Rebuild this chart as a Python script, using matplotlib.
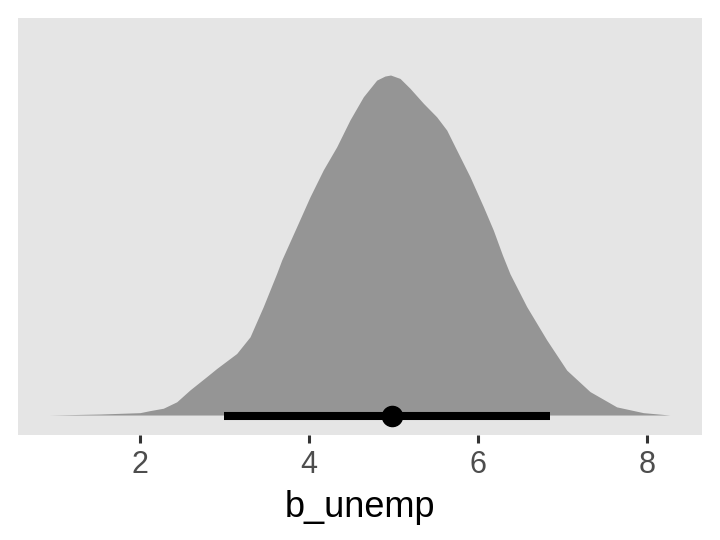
import matplotlib
matplotlib.use('Agg')
import matplotlib.pyplot as plt
import numpy as np

plt.rcParams.update({
    "font.family": ["Liberation Sans", "DejaVu Sans"],
})

# density outline of b_unemp posterior (scaled so peak = 1)
dens_x = [0.923, 1.527, 2.000, 2.118, 2.276, 2.435, 2.592, 2.789, 2.908, 3.144,
          3.302, 3.459, 3.618, 3.677, 3.854, 4.012, 4.169, 4.328, 4.485, 4.643,
          4.801, 4.899, 4.965, 5.077, 5.195, 5.353, 5.511, 5.630, 5.748, 5.905,
          6.063, 6.181, 6.290, 6.379, 6.576, 6.813, 7.050, 7.325, 7.641, 7.956,
          8.272]
dens_y = [0.000, 0.003, 0.007, 0.013, 0.020, 0.039, 0.074, 0.113, 0.137, 0.181,
          0.230, 0.319, 0.417, 0.456, 0.554, 0.642, 0.721, 0.789, 0.868, 0.936,
          0.985, 0.997, 1.000, 0.990, 0.961, 0.917, 0.877, 0.838, 0.779, 0.701,
          0.613, 0.544, 0.470, 0.415, 0.319, 0.221, 0.132, 0.069, 0.024, 0.007,
          0.000]

point_est = 4.98
interval = [2.99, 6.85]
xticks = [2, 4, 6, 8]

C_SLAB = '#959595'
C_BG = '#E5E5E5'

fig = plt.figure(figsize=(7.2, 5.4), dpi=100)
ax = fig.add_axes([0.025, 0.1944, 0.95, 0.7722])
ax.set_facecolor(C_BG)

ax.fill_between(dens_x, 0, dens_y, color=C_SLAB, linewidth=0)
ax.plot(interval, [-0.004, -0.004], color='black', linewidth=5.8,
        solid_capstyle='butt')
ax.plot([point_est], [-0.004], 'o', color='black', markersize=14.5)

ax.set_xlim(0.556, 8.651)
ax.set_ylim(-0.0588, 1.1676)
ax.set_xticks(xticks)
ax.set_xticklabels([str(v) for v in xticks])
ax.set_yticks([])
for s in ax.spines.values():
    s.set_visible(False)
ax.tick_params(axis='x', length=5.8, width=2.2, color='#333333',
               labelcolor='#4D4D4D', labelsize=22, pad=5)
ax.set_xlabel('b_unemp', fontsize=26, color='black', labelpad=7)

fig.savefig('out.png', dpi=100)
